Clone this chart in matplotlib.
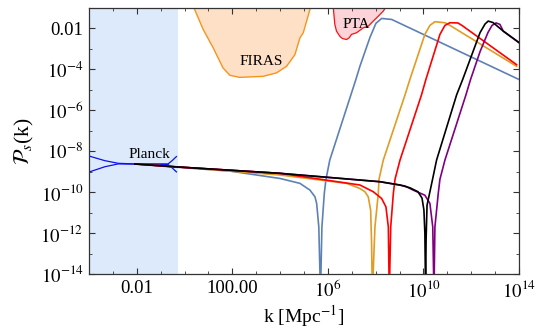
import numpy as np
import matplotlib.pyplot as plt
from matplotlib.ticker import FixedLocator, NullFormatter

plt.rcParams['font.family'] = ['Liberation Serif', 'DejaVu Serif']
plt.rcParams['mathtext.fontset'] = 'stix'

# all values as (log10 k, log10 P)
blue_lk = [-2.08, 1.90, 3.99, 4.83, 5.25, 5.46, 5.53, 5.62, 5.69, 5.75, 5.85, 5.92, 6.08, 7.17, 7.34, 7.76, 8.01, 8.25, 8.67, 14.01]
blue_lp = [-8.63, -8.97, -9.33, -9.57, -9.90, -10.23, -10.55, -11.70, -15.0, -11.70, -10.06, -9.37, -8.43, -4.50, -3.85, -2.44, -1.75, -1.51, -1.56, -4.50]

orange_lk = [-2.08, -0.41, 3.99, 6.78, 7.34, 7.55, 7.69, 7.79, 7.83, 7.86, 7.97, 8.11, 8.14, 8.32, 9.23, 9.43, 10.06, 10.27, 10.48, 10.90, 11.11, 13.90]
orange_lp = [-8.62, -8.76, -9.16, -9.57, -9.82, -9.98, -10.23, -10.88, -12.50, -15.0, -11.70, -10.06, -9.37, -8.43, -5.24, -4.50, -2.29, -1.85, -1.67, -1.72, -1.85, -3.85]

red_lk = [-2.08, -0.41, 3.99, 7.34, 7.90, 8.25, 8.43, 8.53, 8.57, 8.63, 8.74, 8.81, 9.02, 9.92, 10.10, 10.69, 10.90, 11.11, 11.44, 11.61, 13.90]
red_lp = [-8.62, -8.76, -9.08, -9.65, -9.98, -10.31, -10.72, -11.70, -15.0, -11.70, -10.06, -9.37, -8.43, -5.24, -4.50, -2.29, -1.85, -1.72, -1.73, -1.85, -3.77]

purple_lk = [-2.08, -0.41, 3.99, 8.18, 9.23, 9.57, 10.06, 10.27, 10.39, 10.44, 10.48, 10.62, 10.69, 10.90, 11.78, 11.97, 12.37, 12.70, 12.87, 13.04, 13.20, 13.34, 14.01]
purple_lp = [-8.62, -8.76, -9.08, -9.49, -9.70, -9.90, -10.15, -10.55, -11.70, -15.0, -11.70, -10.06, -9.37, -8.43, -5.24, -4.50, -3.13, -2.20, -1.85, -1.73, -1.80, -2.13, -2.70]

black_lk = [-2.08, -0.41, 3.99, 8.18, 9.02, 9.44, 9.77, 9.94, 10.02, 10.06, 10.09, 10.11, 10.15, 10.38, 10.55, 11.39, 11.64, 12.37, 12.58, 12.71, 12.91, 13.34, 14.01]
black_lp = [-8.62, -8.76, -9.08, -9.49, -9.65, -9.79, -9.98, -10.29, -10.88, -12.01, -15.0, -12.35, -10.64, -9.38, -8.43, -5.24, -4.50, -2.20, -1.78, -1.64, -1.71, -2.13, -2.70]

planck_up_lk = [-4.01, -3.34, -2.78, -2.08, -0.69, -0.52, -0.34]
planck_up_lp = [-8.23, -8.46, -8.59, -8.62, -8.62, -8.46, -8.26]
planck_lo_lk = [-4.01, -3.34, -2.78, -2.08, -0.69, -0.52, -0.34]
planck_lo_lp = [-9.02, -8.76, -8.62, -8.63, -8.65, -8.81, -9.01]
planck_kmax = 10 ** -0.28

firas_lk = [0.36, 0.78, 1.20, 1.61, 1.90, 2.31, 3.29, 3.85, 4.27, 4.62, 4.83, 4.97, 5.25, 5.29]
firas_lp = [-0.9, -2.05, -2.95, -3.93, -4.29, -4.39, -4.34, -4.17, -3.85, -3.28, -2.46, -2.21, -1.07, -0.9]

pta_lk = [6.22, 6.29, 6.36, 6.50, 6.57, 6.63, 6.78, 6.89, 6.99, 7.20, 7.48, 7.69, 7.90, 8.11, 8.32, 8.46]
pta_lp = [-0.9, -1.80, -2.13, -2.38, -2.46, -2.50, -2.54, -2.46, -2.29, -2.21, -1.97, -1.89, -1.64, -1.40, -1.15, -0.9]

xticks = [1e-2, 1e2, 1e6, 1e10, 1e14]
xticklabels = ['0.01', '100.00', '$10^{6}$', '$10^{10}$', '$10^{14}$']
yticks = [1e-14, 1e-12, 1e-10, 1e-8, 1e-6, 1e-4, 1e-2]
yticklabels = ['$10^{-14}$', '$10^{-12}$', '$10^{-10}$', '$10^{-8}$', '$10^{-6}$', '$10^{-4}$', '0.01']


def p(a):
    return 10 ** np.array(a)


fig = plt.figure(figsize=(5.38, 3.32), dpi=100)
ax = fig.add_axes([0.1654, 0.1747, 0.7993, 0.8012])
ax.set_xscale('log')
ax.set_yscale('log')

# constraint regions
ax.axvspan(1e-4, planck_kmax, color='#dceafc', lw=0, zorder=0)
ax.fill(p(firas_lk), p(firas_lp), facecolor='#fde0c6', edgecolor='#f7941d', lw=1.0, zorder=1)
ax.fill(p(pta_lk), p(pta_lp), facecolor='#fcd3d8', edgecolor='#ff1010', lw=0.9, zorder=1)
ax.plot(p(planck_up_lk), p(planck_up_lp), color='#1010ee', lw=0.9, zorder=2)
ax.plot(p(planck_lo_lk), p(planck_lo_lp), color='#1010ee', lw=0.9, zorder=2)

# power spectra
lw = 1.2
ax.plot(p(blue_lk), p(blue_lp), color='#5e81b5', lw=lw, zorder=3)
ax.plot(p(orange_lk), p(orange_lp), color='#e19c24', lw=lw, zorder=3)
ax.plot(p(red_lk), p(red_lp), color='#ff0000', lw=lw, zorder=3)
ax.plot(p(purple_lk), p(purple_lp), color='#800080', lw=lw, zorder=3)
ax.plot(p(black_lk), p(black_lp), color='#000000', lw=lw, zorder=4)

ax.text(10 ** -1.48, 10 ** -8.18, 'Planck', fontsize=11, ha='center', va='center', zorder=5)
ax.text(10 ** 3.22, 10 ** -3.60, 'FIRAS', fontsize=11, ha='center', va='center', zorder=5)
ax.text(10 ** 7.17, 10 ** -1.80, 'PTA', fontsize=11, ha='center', va='center', zorder=5)

ax.set_xlim(1e-4, 1e14)
ax.set_ylim(1e-14, 1e-1)

ax.xaxis.set_major_locator(FixedLocator(xticks))
ax.set_xticklabels(xticklabels)
ax.xaxis.set_minor_locator(FixedLocator([10.0 ** e for e in range(-4, 15)]))
ax.xaxis.set_minor_formatter(NullFormatter())
ax.yaxis.set_major_locator(FixedLocator(yticks))
ax.set_yticklabels(yticklabels)
ax.yaxis.set_minor_locator(FixedLocator([10.0 ** e for e in range(-14, 0)]))
ax.yaxis.set_minor_formatter(NullFormatter())

ax.tick_params(which='both', direction='in', top=True, right=True, labelsize=13.5, color='#333333')
ax.tick_params(which='major', length=4.5, width=0.8, pad=4)
ax.tick_params(which='minor', length=2.5, width=0.6)
for s in ax.spines.values():
    s.set_color('#333333')
    s.set_linewidth(0.9)

ax.set_xlabel('k [Mpc$^{-1}$]', fontsize=14, labelpad=1)
ax.set_ylabel(r'$\mathcal{P}_s$(k)', fontsize=15.5, labelpad=3)

fig.savefig('out.png', dpi=100)
